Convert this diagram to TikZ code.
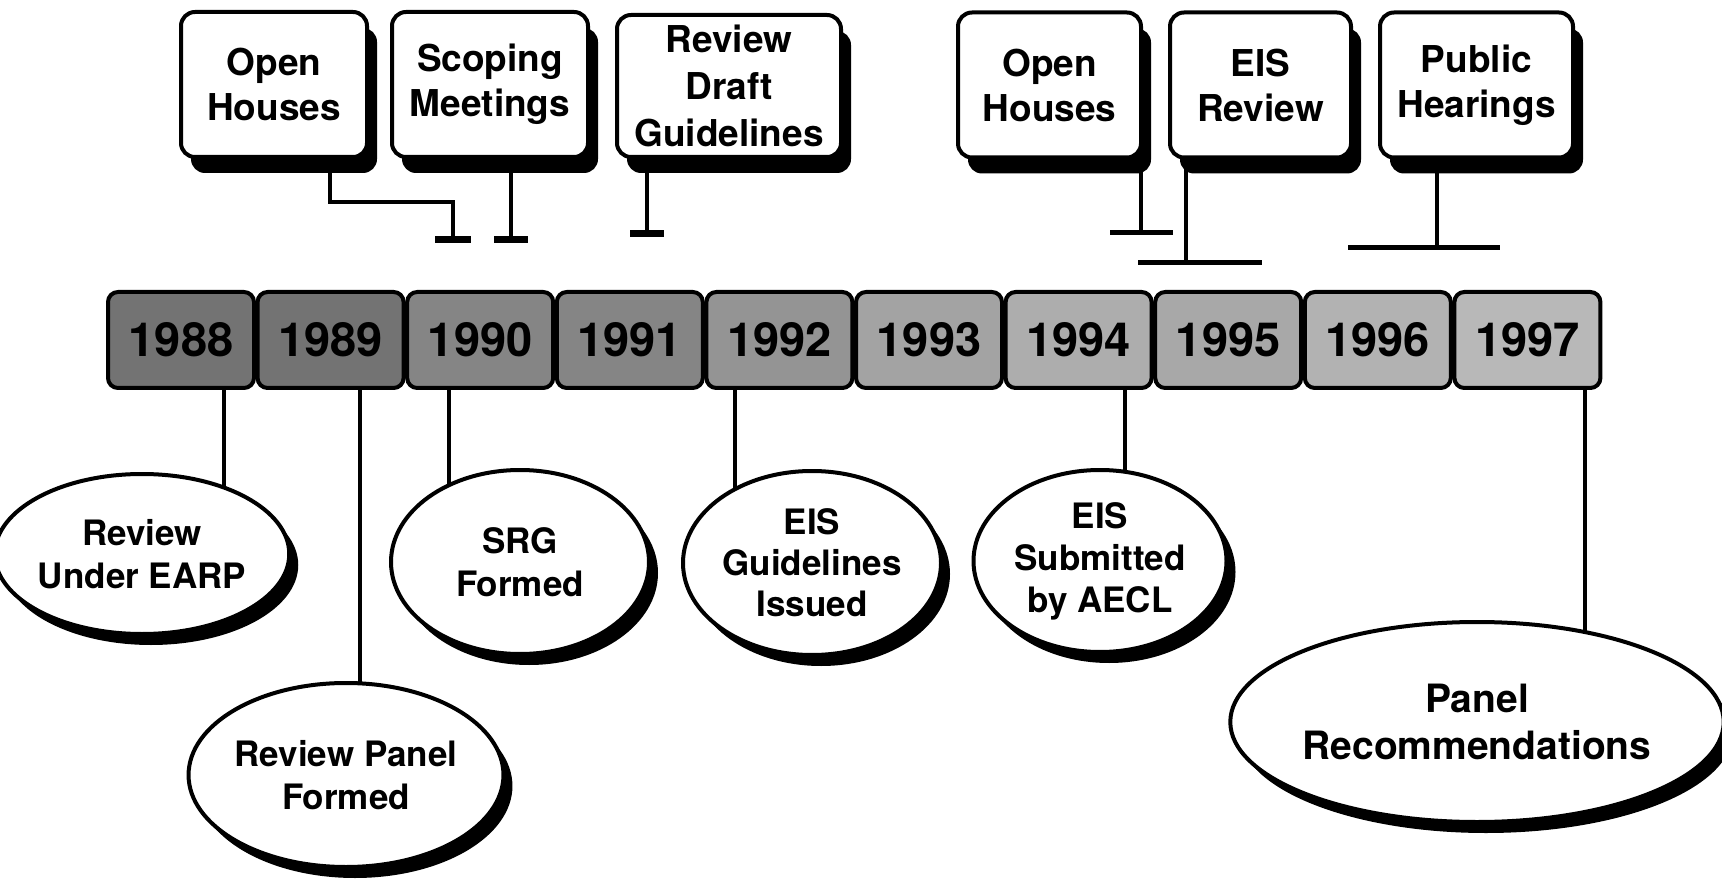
\documentclass[tikz,border=0pt]{standalone}
\usepackage{fontspec}
\setmainfont{TeX Gyre Heros}
\usetikzlibrary{shapes.geometric,shadows,backgrounds}
\begin{document}
\begin{tikzpicture}[x=1pt,y=-1pt,
  topbox/.style={draw, line width=4pt, rounded corners=14pt, fill=white, align=center, inner sep=0pt,
    font=\bfseries\fontsize{37}{45}\selectfont,
    general shadow={fill=black, shadow xshift=10pt, shadow yshift=-16pt}},
  yearbox/.style={draw, line width=4pt, rounded corners=10pt, minimum width=146pt, minimum height=96pt,
    inner sep=0pt, font=\bfseries\fontsize{47}{50}\selectfont},
  oval/.style={ellipse, draw, line width=4pt, fill=white, align=center, inner sep=0pt,
    font=\bfseries\fontsize{35}{43}\selectfont,
    general shadow={fill=black, shadow xshift=9pt, shadow yshift=-11pt}},
  conn/.style={line width=3.5pt},
  tbar/.style={line width=7pt},
  lbar/.style={line width=5pt},
]
\useasboundingbox (0,0) rectangle (1722,882);

% top activity boxes
\node[topbox, minimum width=186pt, minimum height=145pt] (oh1) at (274,84.5) {Open\\Houses};
\node[topbox, minimum width=196pt, minimum height=145pt] (scm) at (490,84.5) {Scoping\\Meetings};
\node[topbox, minimum width=224pt, minimum height=142pt, font=\bfseries\fontsize{37}{47}\selectfont] (rdg) at (729,86) {Review\\Draft\\Guidelines};
\node[topbox, minimum width=183pt, minimum height=145pt] (oh2) at (1049.5,85) {Open\\Houses};
\node[topbox, minimum width=181pt, minimum height=145pt] (eisr) at (1260.5,85) {EIS\\Review};
\node[topbox, minimum width=193pt, minimum height=145pt] (ph) at (1476.5,85) {Public\\Hearings};

% year boxes
\node[yearbox, fill=black!55] (y88) at (181,340) {1988};
\node[yearbox, fill=black!55] (y89) at (330.6,340) {1989};
\node[yearbox, fill=black!48] (y90) at (480.2,340) {1990};
\node[yearbox, fill=black!48] (y91) at (629.8,340) {1991};
\node[yearbox, fill=black!42] (y92) at (779.4,340) {1992};
\node[yearbox, fill=black!36] (y93) at (929,340) {1993};
\node[yearbox, fill=black!32] (y94) at (1078.6,340) {1994};
\node[yearbox, fill=black!34] (y95) at (1228.2,340) {1995};
\node[yearbox, fill=black!30] (y96) at (1377.8,340) {1996};
\node[yearbox, fill=black!28] (y97) at (1527.4,340) {1997};

% milestone ovals
\node[oval, minimum width=258pt, minimum height=160pt] (e1) at (142,554) {Review\\Under EARP};
\node[oval, minimum width=306pt, minimum height=184pt] (e2) at (346,775) {Review Panel\\Formed};
\node[oval, minimum width=258pt, minimum height=184pt] (e3) at (520,562) {SRG\\Formed};
\node[oval, minimum width=258pt, minimum height=184pt, font=\bfseries\fontsize{35}{41}\selectfont] (e4) at (812,563) {EIS\\Guidelines\\Issued};
\node[oval, minimum width=253pt, minimum height=182pt, font=\bfseries\fontsize{35}{42}\selectfont] (e5) at (1100,561) {EIS\\Submitted\\by AECL};
\node[oval, minimum width=468pt, minimum height=200pt, font=\bfseries\fontsize{39}{47}\selectfont] (e6) at (1477,722) {Panel\\Recommendations};

% named points for connectors
\coordinate (j1) at (330,202);
\coordinate (b1) at (453,240);
\coordinate (b2) at (511,240);
\coordinate (b3) at (647,234);
\coordinate (b4) at (1141,233);
\coordinate (b5) at (1186,263);
\coordinate (b6) at (1437,248);
\coordinate (h1) at (224,0);
\coordinate (h2) at (360,0);
\coordinate (h3) at (449,0);
\coordinate (h4) at (735,0);
\coordinate (h5) at (1125,0);
\coordinate (h6) at (1585,0);

\begin{scope}[on background layer]
  \fill[white] (0,0) rectangle (1722,882);
  % top connectors
  \draw[conn] (oh1.center -| j1) -- (j1) -- (j1 -| b1) -- (b1);
  \draw[tbar] ([xshift=-18pt]b1) -- ([xshift=18pt]b1);
  \draw[conn] (scm.center -| b2) -- (b2);
  \draw[tbar] ([xshift=-17pt]b2) -- ([xshift=17pt]b2);
  \draw[conn] (rdg.center -| b3) -- (b3);
  \draw[tbar] ([xshift=-17pt]b3) -- ([xshift=17pt]b3);
  \draw[conn] (oh2.center -| b4) -- (b4);
  \draw[lbar] ([xshift=-31pt]b4) -- ([xshift=32pt]b4);
  \draw[conn] (eisr.center -| b5) -- (b5);
  \draw[lbar] ([xshift=-48pt]b5) -- ([xshift=76pt]b5);
  \draw[conn] (ph.center -| b6) -- (b6);
  \draw[lbar] ([xshift=-89pt]b6) -- ([xshift=63pt]b6);
  % hanging connectors
  \draw[conn] (y88.center -| h1) -- (e1.center -| h1);
  \draw[conn] (y89.center -| h2) -- (e2.center -| h2);
  \draw[conn] (y90.center -| h3) -- (e3.center -| h3);
  \draw[conn] (y92.center -| h4) -- (e4.center -| h4);
  \draw[conn] (y94.center -| h5) -- (e5.center -| h5);
  \draw[conn] (y97.center -| h6) -- (e6.center -| h6);
\end{scope}
\end{tikzpicture}
\end{document}
